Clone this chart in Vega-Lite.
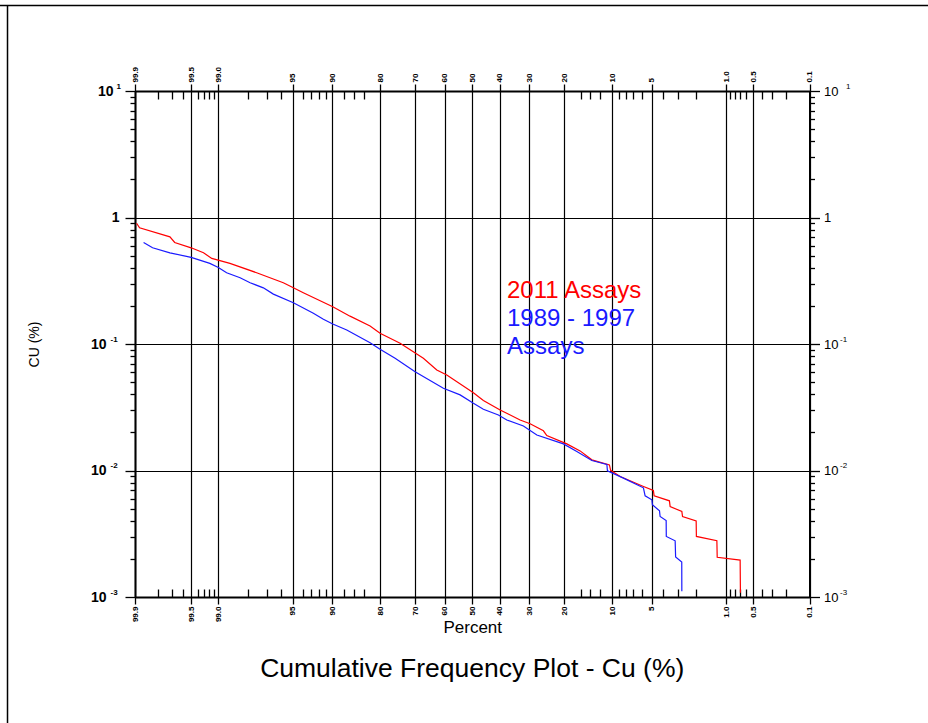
{
  "$schema": "https://vega.github.io/schema/vega-lite/v6.json",
  "width": 674.5,
  "height": 506,
  "autosize": "none",
  "padding": {"left": 135, "top": 91, "right": 118.5, "bottom": 126},
  "background": "white",
  "config": {"view": {"stroke": null}, "font": "Liberation Sans"},
  "title": {"text": "Cumulative Frequency Plot - Cu (%)", "orient": "bottom", "anchor": "middle", "fontSize": 26.5, "fontWeight": "normal", "font": "Liberation Sans", "color": "black", "offset": -68},
  "datasets": {
    "assays": [
      {"series": "2011 Assays", "percent": 99.895, "cu": 0.90},
      {"series": "2011 Assays", "percent": 99.885, "cu": 0.83},
      {"series": "2011 Assays", "percent": 99.72, "cu": 0.703},
      {"series": "2011 Assays", "percent": 99.68, "cu": 0.635},
      {"series": "2011 Assays", "percent": 99.50, "cu": 0.576},
      {"series": "2011 Assays", "percent": 99.31, "cu": 0.526},
      {"series": "2011 Assays", "percent": 99.15, "cu": 0.475},
      {"series": "2011 Assays", "percent": 98.68, "cu": 0.434},
      {"series": "2011 Assays", "percent": 97.59, "cu": 0.366},
      {"series": "2011 Assays", "percent": 95.83, "cu": 0.305},
      {"series": "2011 Assays", "percent": 94.94, "cu": 0.278},
      {"series": "2011 Assays", "percent": 93.92, "cu": 0.254},
      {"series": "2011 Assays", "percent": 89.94, "cu": 0.197},
      {"series": "2011 Assays", "percent": 86.86, "cu": 0.166},
      {"series": "2011 Assays", "percent": 82.54, "cu": 0.1387},
      {"series": "2011 Assays", "percent": 80.09, "cu": 0.1215},
      {"series": "2011 Assays", "percent": 74.57, "cu": 0.1013},
      {"series": "2011 Assays", "percent": 67.29, "cu": 0.0771},
      {"series": "2011 Assays", "percent": 62.74, "cu": 0.0623},
      {"series": "2011 Assays", "percent": 59.22, "cu": 0.0569},
      {"series": "2011 Assays", "percent": 49.58, "cu": 0.0412},
      {"series": "2011 Assays", "percent": 45.94, "cu": 0.0357},
      {"series": "2011 Assays", "percent": 39.92, "cu": 0.0301},
      {"series": "2011 Assays", "percent": 33.05, "cu": 0.0251},
      {"series": "2011 Assays", "percent": 29.80, "cu": 0.0234},
      {"series": "2011 Assays", "percent": 25.72, "cu": 0.0206},
      {"series": "2011 Assays", "percent": 24.73, "cu": 0.0189},
      {"series": "2011 Assays", "percent": 19.31, "cu": 0.01624},
      {"series": "2011 Assays", "percent": 16.15, "cu": 0.01429},
      {"series": "2011 Assays", "percent": 13.66, "cu": 0.01214},
      {"series": "2011 Assays", "percent": 10.44, "cu": 0.01108},
      {"series": "2011 Assays", "percent": 10.24, "cu": 0.01003},
      {"series": "2011 Assays", "percent": 8.77, "cu": 0.00896},
      {"series": "2011 Assays", "percent": 5.83, "cu": 0.00747},
      {"series": "2011 Assays", "percent": 4.85, "cu": 0.00695},
      {"series": "2011 Assays", "percent": 4.78, "cu": 0.00631},
      {"series": "2011 Assays", "percent": 3.54, "cu": 0.00576},
      {"series": "2011 Assays", "percent": 3.49, "cu": 0.00519},
      {"series": "2011 Assays", "percent": 2.74, "cu": 0.00474},
      {"series": "2011 Assays", "percent": 2.70, "cu": 0.00433},
      {"series": "2011 Assays", "percent": 2.01, "cu": 0.0040},
      {"series": "2011 Assays", "percent": 2.00, "cu": 0.00301},
      {"series": "2011 Assays", "percent": 1.25, "cu": 0.00279},
      {"series": "2011 Assays", "percent": 1.24, "cu": 0.00206},
      {"series": "2011 Assays", "percent": 0.705, "cu": 0.00196},
      {"series": "2011 Assays", "percent": 0.70, "cu": 0.00108},
      {"series": "1989 - 1997 Assays", "percent": 99.87, "cu": 0.635},
      {"series": "1989 - 1997 Assays", "percent": 99.83, "cu": 0.576},
      {"series": "1989 - 1997 Assays", "percent": 99.72, "cu": 0.526},
      {"series": "1989 - 1997 Assays", "percent": 99.50, "cu": 0.484},
      {"series": "1989 - 1997 Assays", "percent": 99.19, "cu": 0.434},
      {"series": "1989 - 1997 Assays", "percent": 99.00, "cu": 0.403},
      {"series": "1989 - 1997 Assays", "percent": 98.78, "cu": 0.366},
      {"series": "1989 - 1997 Assays", "percent": 98.33, "cu": 0.334},
      {"series": "1989 - 1997 Assays", "percent": 97.91, "cu": 0.305},
      {"series": "1989 - 1997 Assays", "percent": 97.22, "cu": 0.278},
      {"series": "1989 - 1997 Assays", "percent": 96.58, "cu": 0.248},
      {"series": "1989 - 1997 Assays", "percent": 94.94, "cu": 0.212},
      {"series": "1989 - 1997 Assays", "percent": 92.73, "cu": 0.175},
      {"series": "1989 - 1997 Assays", "percent": 91.37, "cu": 0.1567},
      {"series": "1989 - 1997 Assays", "percent": 89.94, "cu": 0.1439},
      {"series": "1989 - 1997 Assays", "percent": 87.49, "cu": 0.129},
      {"series": "1989 - 1997 Assays", "percent": 82.54, "cu": 0.1024},
      {"series": "1989 - 1997 Assays", "percent": 80.09, "cu": 0.0908},
      {"series": "1989 - 1997 Assays", "percent": 76.02, "cu": 0.0771},
      {"series": "1989 - 1997 Assays", "percent": 69.98, "cu": 0.0604},
      {"series": "1989 - 1997 Assays", "percent": 60.43, "cu": 0.0447},
      {"series": "1989 - 1997 Assays", "percent": 54.43, "cu": 0.0396},
      {"series": "1989 - 1997 Assays", "percent": 49.58, "cu": 0.0340},
      {"series": "1989 - 1997 Assays", "percent": 45.94, "cu": 0.0305},
      {"series": "1989 - 1997 Assays", "percent": 40.53, "cu": 0.0275},
      {"series": "1989 - 1997 Assays", "percent": 37.57, "cu": 0.0251},
      {"series": "1989 - 1997 Assays", "percent": 31.96, "cu": 0.0225},
      {"series": "1989 - 1997 Assays", "percent": 27.70, "cu": 0.0191},
      {"series": "1989 - 1997 Assays", "percent": 20.17, "cu": 0.01624},
      {"series": "1989 - 1997 Assays", "percent": 16.90, "cu": 0.01412},
      {"series": "1989 - 1997 Assays", "percent": 13.66, "cu": 0.01199},
      {"series": "1989 - 1997 Assays", "percent": 10.87, "cu": 0.01118},
      {"series": "1989 - 1997 Assays", "percent": 10.77, "cu": 0.00994},
      {"series": "1989 - 1997 Assays", "percent": 8.30, "cu": 0.0087},
      {"series": "1989 - 1997 Assays", "percent": 5.84, "cu": 0.0073},
      {"series": "1989 - 1997 Assays", "percent": 5.66, "cu": 0.00631},
      {"series": "1989 - 1997 Assays", "percent": 4.99, "cu": 0.00587},
      {"series": "1989 - 1997 Assays", "percent": 4.94, "cu": 0.00536},
      {"series": "1989 - 1997 Assays", "percent": 4.31, "cu": 0.0048},
      {"series": "1989 - 1997 Assays", "percent": 4.26, "cu": 0.00433},
      {"series": "1989 - 1997 Assays", "percent": 3.78, "cu": 0.00402},
      {"series": "1989 - 1997 Assays", "percent": 3.77, "cu": 0.00301},
      {"series": "1989 - 1997 Assays", "percent": 3.15, "cu": 0.00278},
      {"series": "1989 - 1997 Assays", "percent": 3.12, "cu": 0.00207},
      {"series": "1989 - 1997 Assays", "percent": 2.745, "cu": 0.00189},
      {"series": "1989 - 1997 Assays", "percent": 2.74, "cu": 0.00111}
    ],
    "labels": [
      {"series": "2011 Assays", "text": "2011 Assays", "percent": 37.5, "cu": 0.231},
      {"series": "1989 - 1997 Assays", "text": "1989 - 1997", "percent": 37.5, "cu": 0.1388},
      {"series": "1989 - 1997 Assays", "text": "Assays", "percent": 37.5, "cu": 0.0834}
    ],
    "frame": [{"edge": "frame"}]
  },
  "layer": [
    {
      "data": {"name": "assays"},
      "transform": [{"filter": "datum.series == '2011 Assays'"}, {"calculate": "quantileNormal(1 - datum.percent / 100)", "as": "z"}],
      "mark": {"type": "line", "color": "#ff0000", "strokeWidth": 1.2},
      "encoding": {
        "x": {"field": "z", "type": "quantitative", "scale": {"type": "linear", "domain": [-3.0902, 3.0902], "nice": false, "zero": false},
          "axis": {"orient": "bottom", "values": [-3.0902,-2.8782,-2.7478,-2.6521,-2.5758,-2.5121,-2.4573,-2.4089,-2.3656,-2.3263,-2.0537,-1.8808,-1.7507,-1.6449,-1.5548,-1.4758,-1.4051,-1.3408,-1.2816,-1.175,-1.0803,-0.9945,-0.8416,-0.5244,-0.2533,0,0.2533,0.5244,0.8416,0.9945,1.0803,1.175,1.2816,1.3408,1.4051,1.4758,1.5548,1.6449,1.7507,1.8808,2.0537,2.3263,2.3656,2.4089,2.4573,2.5121,2.5758,2.6521,2.7478,2.8782,3.0902],
            "labelExpr": "indexof([-3.0902,-2.5758,-2.3263,-1.6449,-1.2816,-0.8416,-0.5244,-0.2533,0,0.2533,0.5244,0.8416,1.2816,1.6449,2.3263,2.5758,3.0902], datum.value) < 0 ? '' : (abs(datum.value) > 2.3 ? format(100 * (1 - cumulativeNormal(datum.value)), '.1f') : format(100 * (1 - cumulativeNormal(datum.value)), '.0f'))",
            "labelAngle": 270, "labelFontSize": 8, "labelFontWeight": "bold", "labelColor": "black", "labelPadding": 2, "labelOverlap": false, "labelFlush": false, "labelBound": false,
            "tickSize": {"condition": {"test": "indexof([-3.0902,-2.5758,-2.3263,-1.6449,-1.2816,-0.8416,-0.5244,-0.2533,0,0.2533,0.5244,0.8416,1.2816,1.6449,2.3263,2.5758,3.0902], datum.value) >= 0", "value": 7}, "value": -8},
            "tickColor": "black", "tickWidth": 1.3,
            "grid": true, "gridColor": "black", "gridWidth": 1.2,
            "gridOpacity": {"condition": {"test": "indexof([-3.0902,-2.5758,-2.3263,-1.6449,-1.2816,-0.8416,-0.5244,-0.2533,0,0.2533,0.5244,0.8416,1.2816,1.6449,2.3263,2.5758,3.0902], datum.value) >= 0", "value": 1}, "value": 0},
            "domainColor": "black", "domainWidth": 2,
            "title": "Percent", "titleFontSize": 17, "titleFontWeight": "normal", "titleColor": "black", "titlePadding": -2}},
        "y": {"field": "cu", "type": "quantitative", "scale": {"type": "log", "domain": [0.001, 10], "nice": false},
          "axis": {"orient": "left", "values": [0.001,0.002,0.003,0.004,0.005,0.006,0.007,0.008,0.009,0.01,0.02,0.03,0.04,0.05,0.06,0.07,0.08,0.09,0.1,0.2,0.3,0.4,0.5,0.6,0.7,0.8,0.9,1,2,3,4,5,6,7,8,9,10],
            "labelExpr": "datum.value == 1 ? '1' : (indexof([0.001,0.01,0.1,10], datum.value) >= 0 ? '10' : '')",
            "labelFontSize": 14, "labelFontWeight": "bold", "labelColor": "black", "labelBaseline": "middle",
            "labelPadding": {"condition": [{"test": "datum.value == 1", "value": 6}, {"test": "datum.value == 10", "value": 12}], "value": 19},
            "tickSize": {"condition": {"test": "indexof([0.001,0.01,0.1,1,10], datum.value) >= 0", "value": 10}, "value": 5},
            "tickColor": "black", "tickWidth": 1.3,
            "grid": true, "gridColor": "black", "gridWidth": 1.2,
            "gridOpacity": {"condition": {"test": "indexof([0.001,0.01,0.1,1,10], datum.value) >= 0", "value": 1}, "value": 0},
            "domainColor": "black", "domainWidth": 2,
            "title": "CU (%)", "titleFontSize": 14, "titleFontWeight": "normal", "titleColor": "black", "titlePadding": 49}},
        "order": {"field": "percent", "sort": "descending"}
      }
    },
    {
      "data": {"name": "assays"},
      "transform": [{"filter": "datum.series == '1989 - 1997 Assays'"}, {"calculate": "quantileNormal(1 - datum.percent / 100)", "as": "z"}],
      "mark": {"type": "line", "color": "#1a1aff", "strokeWidth": 1.2},
      "encoding": {
        "x": {"field": "z", "type": "quantitative", "scale": {"type": "linear", "domain": [-3.0902, 3.0902], "nice": false, "zero": false},
          "axis": {"orient": "top", "values": [-3.0902,-2.8782,-2.7478,-2.6521,-2.5758,-2.5121,-2.4573,-2.4089,-2.3656,-2.3263,-2.0537,-1.8808,-1.7507,-1.6449,-1.5548,-1.4758,-1.4051,-1.3408,-1.2816,-1.175,-1.0803,-0.9945,-0.8416,-0.5244,-0.2533,0,0.2533,0.5244,0.8416,0.9945,1.0803,1.175,1.2816,1.3408,1.4051,1.4758,1.5548,1.6449,1.7507,1.8808,2.0537,2.3263,2.3656,2.4089,2.4573,2.5121,2.5758,2.6521,2.7478,2.8782,3.0902],
            "labelExpr": "indexof([-3.0902,-2.5758,-2.3263,-1.6449,-1.2816,-0.8416,-0.5244,-0.2533,0,0.2533,0.5244,0.8416,1.2816,1.6449,2.3263,2.5758,3.0902], datum.value) < 0 ? '' : (abs(datum.value) > 2.3 ? format(100 * (1 - cumulativeNormal(datum.value)), '.1f') : format(100 * (1 - cumulativeNormal(datum.value)), '.0f'))",
            "labelAngle": 270, "labelFontSize": 8, "labelFontWeight": "bold", "labelColor": "black", "labelPadding": 2, "labelOverlap": false, "labelFlush": false, "labelBound": false,
            "tickSize": {"condition": {"test": "indexof([-3.0902,-2.5758,-2.3263,-1.6449,-1.2816,-0.8416,-0.5244,-0.2533,0,0.2533,0.5244,0.8416,1.2816,1.6449,2.3263,2.5758,3.0902], datum.value) >= 0", "value": 7}, "value": -8},
            "tickColor": "black", "tickWidth": 1.3,
            "grid": false,
            "domainColor": "black", "domainWidth": 2,
            "title": null}},
        "y": {"field": "cu", "type": "quantitative", "scale": {"type": "log", "domain": [0.001, 10], "nice": false},
          "axis": {"orient": "right", "values": [0.001,0.002,0.003,0.004,0.005,0.006,0.007,0.008,0.009,0.01,0.02,0.03,0.04,0.05,0.06,0.07,0.08,0.09,0.1,0.2,0.3,0.4,0.5,0.6,0.7,0.8,0.9,1,2,3,4,5,6,7,8,9,10],
            "labelExpr": "datum.value == 1 ? '1' : (indexof([0.001,0.01,0.1,10], datum.value) >= 0 ? '10' : '')",
            "labelFontSize": 13, "labelFontWeight": "normal", "labelColor": "black", "labelBaseline": "middle", "labelPadding": 4,
            "tickSize": {"condition": {"test": "indexof([0.001,0.01,0.1,1,10], datum.value) >= 0", "value": 10}, "value": 5},
            "tickColor": "black", "tickWidth": 1.3,
            "grid": false,
            "domainColor": "black", "domainWidth": 2,
            "title": null}},
        "order": {"field": "percent", "sort": "descending"}
      }
    },
    {
      "data": {"name": "labels"},
      "transform": [{"filter": "datum.series == '2011 Assays'"}, {"calculate": "quantileNormal(1 - datum.percent / 100)", "as": "z"}],
      "mark": {"type": "text", "color": "#ff0000", "fontSize": 24, "font": "Liberation Sans", "align": "left", "baseline": "alphabetic"},
      "encoding": {
        "x": {"field": "z", "type": "quantitative", "scale": {"type": "linear", "domain": [-3.0902, 3.0902], "nice": false, "zero": false}, "axis": null},
        "y": {"field": "cu", "type": "quantitative", "scale": {"type": "log", "domain": [0.001, 10], "nice": false},
          "axis": {"orient": "left", "values": [0.001, 0.01, 0.1, 10],
            "labelExpr": "datum.value == 10 ? '1' : (datum.value == 0.1 ? '-1' : (datum.value == 0.01 ? '-2' : '-3'))",
            "ticks": false, "domain": false, "grid": false, "labelAlign": "left", "labelBaseline": "middle", "labelFontSize": 8, "labelFontWeight": "bold", "labelColor": "black", "labelOffset": -5,
            "labelPadding": {"condition": {"test": "datum.value == 10", "value": 19}, "value": 25},
            "title": null}},
        "text": {"field": "text"}
      }
    },
    {
      "data": {"name": "labels"},
      "transform": [{"filter": "datum.series == '1989 - 1997 Assays'"}, {"calculate": "quantileNormal(1 - datum.percent / 100)", "as": "z"}],
      "mark": {"type": "text", "color": "#1a1aff", "fontSize": 24, "font": "Liberation Sans", "align": "left", "baseline": "alphabetic"},
      "encoding": {
        "x": {"field": "z", "type": "quantitative", "scale": {"type": "linear", "domain": [-3.0902, 3.0902], "nice": false, "zero": false}, "axis": null},
        "y": {"field": "cu", "type": "quantitative", "scale": {"type": "log", "domain": [0.001, 10], "nice": false},
          "axis": {"orient": "right", "values": [0.001, 0.01, 0.1, 10],
            "labelExpr": "datum.value == 10 ? '1' : (datum.value == 0.1 ? '-1' : (datum.value == 0.01 ? '-2' : '-3'))",
            "ticks": false, "domain": false, "grid": false, "labelAlign": "left", "labelBaseline": "middle", "labelFontSize": 8, "labelFontWeight": "normal", "labelColor": "black", "labelOffset": -5,
            "labelPadding": {"condition": {"test": "datum.value == 10", "value": 36}, "value": 30},
            "title": null}},
        "text": {"field": "text"}
      }
    },
    {
      "data": {"name": "frame"},
      "mark": {"type": "rule", "color": "black", "strokeWidth": 1.5, "clip": false},
      "encoding": {
        "x": {"datum": -4.33, "type": "quantitative", "scale": {"type": "linear", "domain": [-3.0902, 3.0902], "nice": false, "zero": false}, "axis": null},
        "x2": {"datum": 4.3},
        "y": {"datum": 47.4, "type": "quantitative", "scale": {"type": "log", "domain": [0.001, 10], "nice": false}, "axis": null}
      }
    },
    {
      "data": {"name": "frame"},
      "mark": {"type": "rule", "color": "black", "strokeWidth": 1.5, "clip": false},
      "encoding": {
        "x": {"datum": -4.2584, "type": "quantitative", "scale": {"type": "linear", "domain": [-3.0902, 3.0902], "nice": false, "zero": false}, "axis": null},
        "y": {"datum": 47.4, "type": "quantitative", "scale": {"type": "log", "domain": [0.001, 10], "nice": false}, "axis": null},
        "y2": {"datum": 0.0001}
      }
    }
  ],
  "resolve": {"axis": {"x": "independent", "y": "independent"}}
}
